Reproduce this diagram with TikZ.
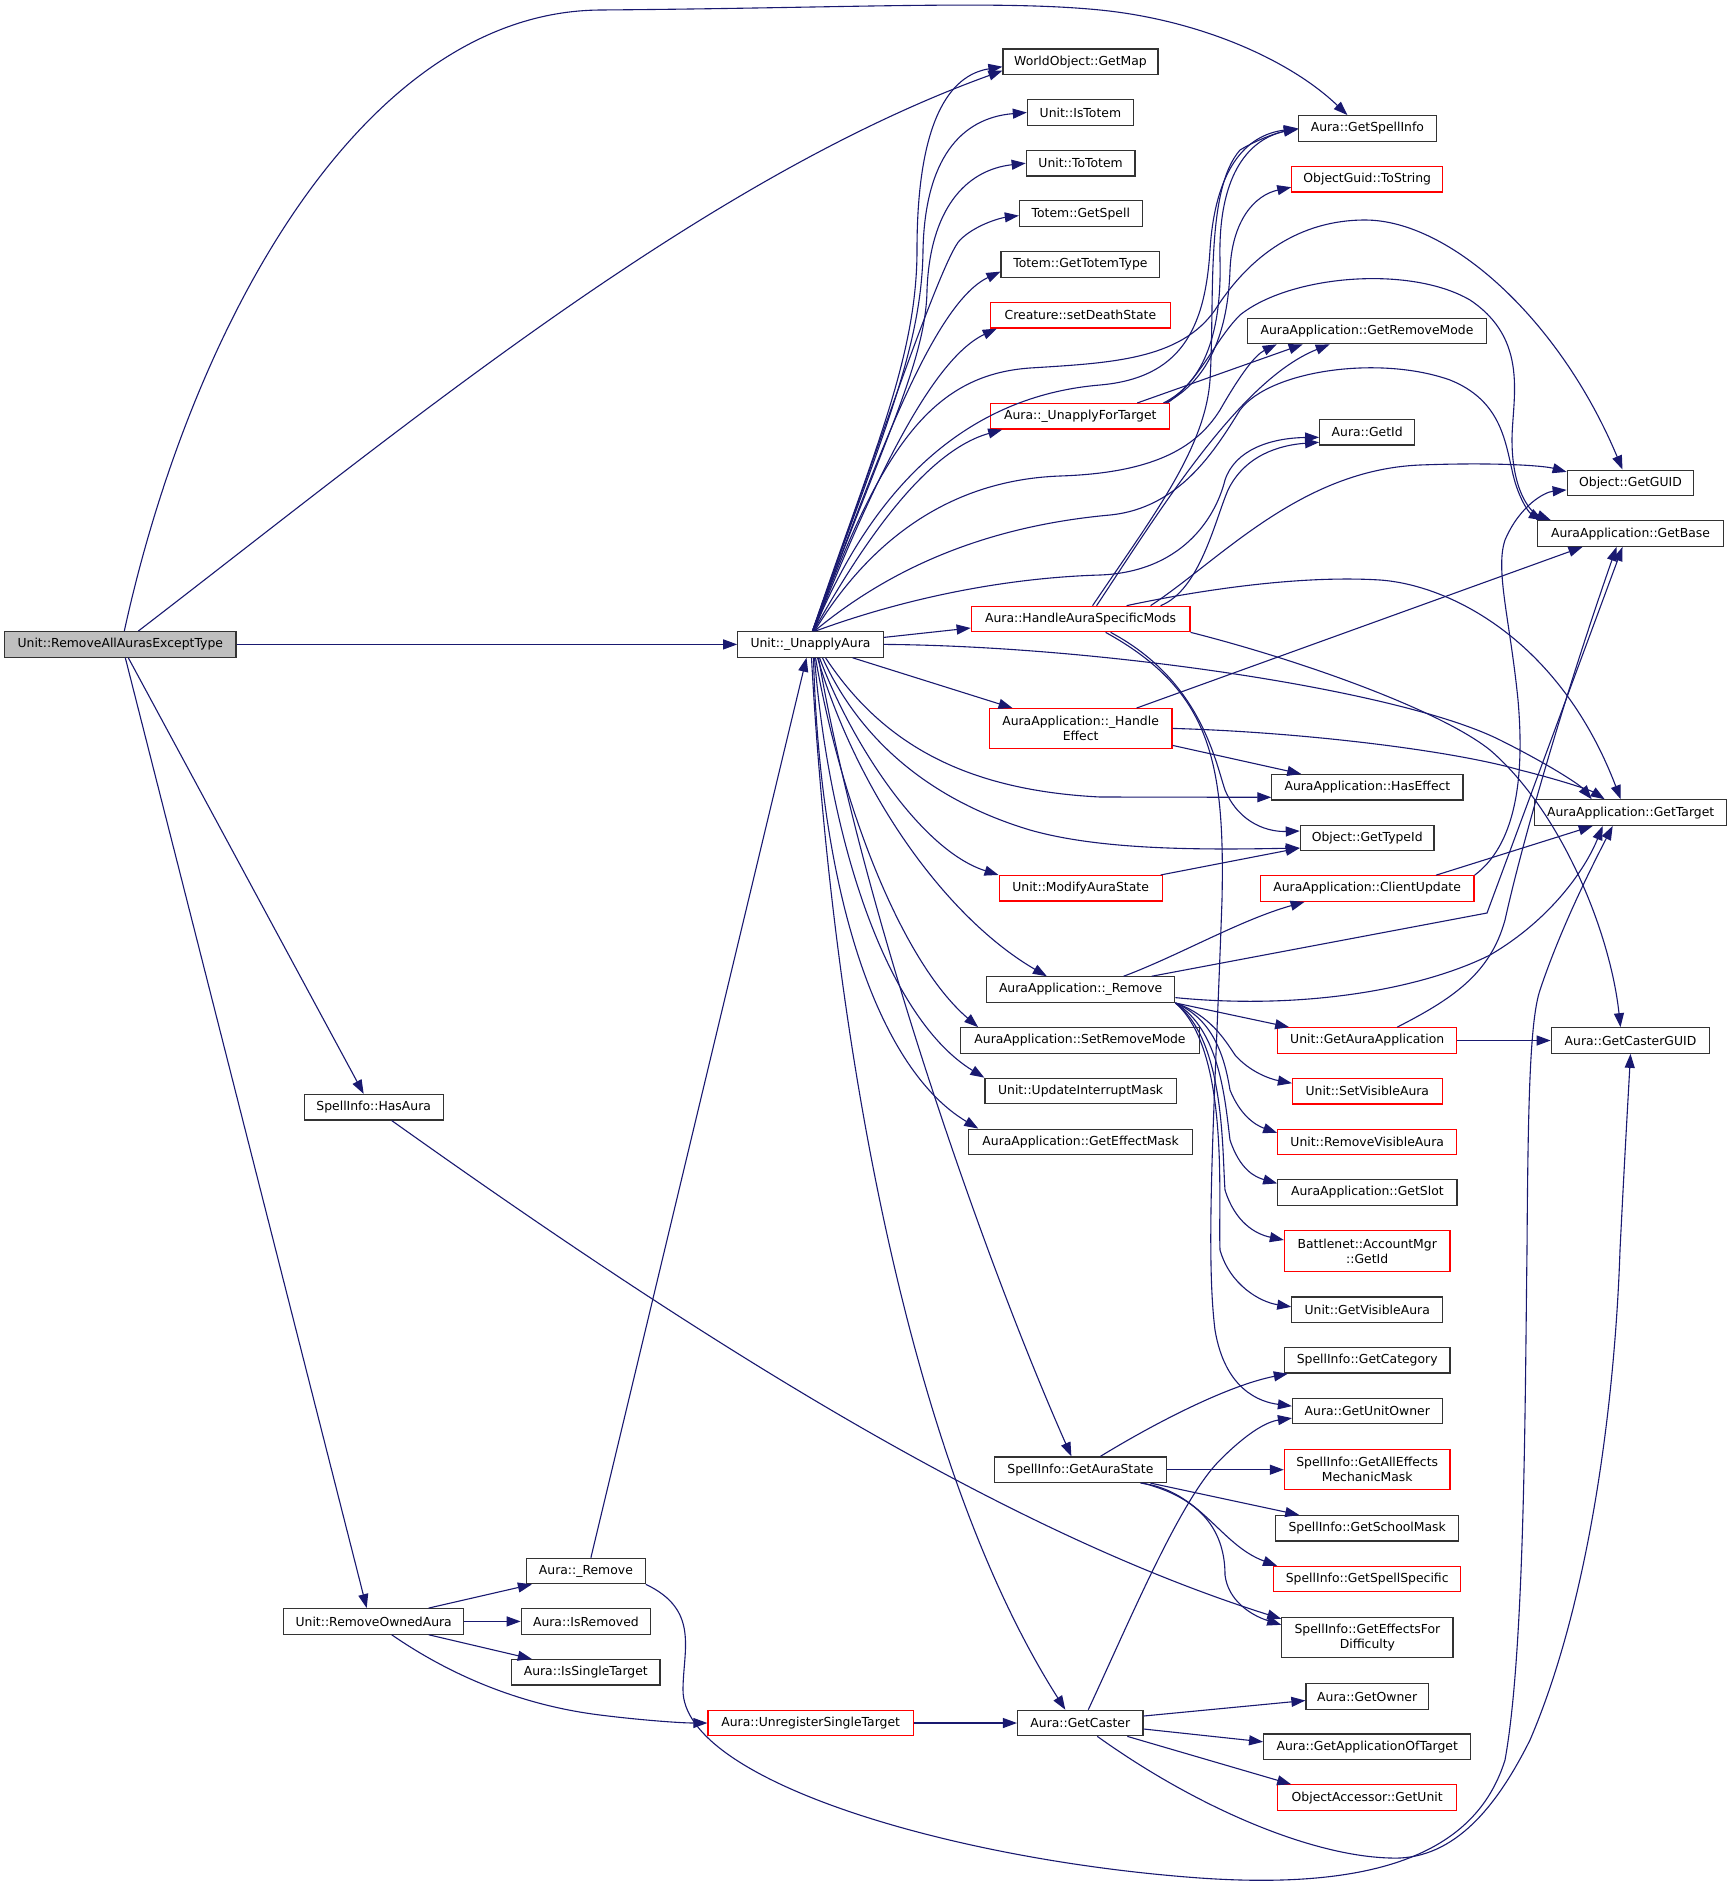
\documentclass[tikz,border=0pt]{standalone}
\usepackage{fontspec}
\newfontfamily\dv{DejaVu Sans}
\usetikzlibrary{arrows.meta}
\definecolor{navy}{HTML}{191970}
\tikzset{
  nb/.style={draw=black!80, line width=1.2pt, fill=white, inner sep=0pt, minimum height=25.5pt, align=center, font=\dv\fontsize{12.4}{15}\selectfont},
  rb/.style={nb, draw=red},
  e/.style={draw=navy, line width=1.1pt, -{Triangle[length=14pt,width=10pt]}}
}
\begin{document}
\begin{tikzpicture}[x=1pt,y=-1pt]
\fill[white] (0,0) rectangle (1732,1888);
\path[use as bounding box] (0,0) rectangle (1732,1888);
% column 1
\node[nb, fill=gray!50, minimum width=231.4pt] (R) at (120.3,644.4) {Unit::RemoveAllAurasExceptType};
\node[nb, minimum width=139pt] (hasaura) at (373.7,1107.2) {SpellInfo::HasAura};
\node[nb, minimum width=180.2pt] (rowned) at (373.7,1621.4) {Unit::RemoveOwnedAura};
\node[nb, minimum width=118.7pt] (aremove) at (585.9,1571) {Aura::\_Remove};
\node[nb, minimum width=129.3pt] (isrem) at (585.9,1621.4) {Aura::IsRemoved};
\node[nb, minimum width=148.4pt] (issingle) at (585.8,1672.3) {Aura::IsSingleTarget};
\node[nb, minimum width=145.4pt] (U) at (810.5,644.4) {Unit::\_UnapplyAura};
\node[rb, minimum width=205.5pt] (unreg) at (810.7,1723) {Aura::UnregisterSingleTarget};
% column 2
\node[nb, minimum width=155pt] (gmap) at (1080.5,61.7) {WorldObject::GetMap};
\node[nb, minimum width=106pt] (istotem) at (1080.4,112.5) {Unit::IsTotem};
\node[nb, minimum width=108.7pt] (tototem) at (1080.6,163.2) {Unit::ToTotem};
\node[nb, minimum width=122.8pt] (gspell) at (1080.8,213.6) {Totem::GetSpell};
\node[nb, minimum width=158.8pt] (gtt) at (1080.4,264.6) {Totem::GetTotemType};
\node[rb, minimum width=180.2pt] (sds) at (1080.4,315.2) {Creature::setDeathState};
\node[rb, minimum width=179.1pt] (uft) at (1080.3,416.3) {Aura::\_UnapplyForTarget};
\node[rb, minimum width=218.8pt] (hm) at (1080.6,619) {Aura::HandleAuraSpecificMods};
\node[rb, minimum width=182.9pt, minimum height=39.5pt] (he) at (1080.6,728.4) {AuraApplication::\_Handle\\Effect};
\node[rb, minimum width=163pt] (mas) at (1080.6,888.3) {Unit::ModifyAuraState};
\node[nb, minimum width=188.3pt] (aar) at (1080.6,989.6) {AuraApplication::\_Remove};
\node[nb, minimum width=238.5pt] (srm) at (1080,1040.5) {AuraApplication::SetRemoveMode};
\node[nb, minimum width=191.3pt] (uim) at (1080.6,1091) {Unit::UpdateInterruptMask};
\node[nb, minimum width=223.5pt] (gem) at (1080.6,1141.9) {AuraApplication::GetEffectMask};
\node[nb, minimum width=171.8pt] (gastate) at (1080.4,1469.7) {SpellInfo::GetAuraState};
\node[nb, minimum width=125.5pt] (gcaster) at (1080.3,1723) {Aura::GetCaster};
% column 3
\node[nb, minimum width=137.7pt] (gsi) at (1367.4,128.4) {Aura::GetSpellInfo};
\node[rb, minimum width=150.7pt] (tostr) at (1367.2,179.2) {ObjectGuid::ToString};
\node[nb, minimum width=239.4pt] (grm) at (1367,331) {AuraApplication::GetRemoveMode};
\node[nb, minimum width=95.1pt] (gid) at (1367.2,432.3) {Aura::GetId};
\node[nb, minimum width=191.1pt] (hef) at (1367.4,787.3) {AuraApplication::HasEffect};
\node[nb, minimum width=133.7pt] (gti) at (1367.2,838) {Object::GetTypeId};
\node[rb, minimum width=213.8pt] (cu) at (1367.1,888.5) {AuraApplication::ClientUpdate};
\node[rb, minimum width=178.9pt] (gaa) at (1367.2,1040.5) {Unit::GetAuraApplication};
\node[rb, minimum width=149.6pt] (sva) at (1367.3,1091.2) {Unit::SetVisibleAura};
\node[rb, minimum width=178.9pt] (rva) at (1367.2,1141.9) {Unit::RemoveVisibleAura};
\node[nb, minimum width=179.3pt] (gslot) at (1367.4,1192.4) {AuraApplication::GetSlot};
\node[rb, minimum width=165.5pt, minimum height=40.3pt] (acc) at (1367.2,1251) {Battlenet::AccountMgr\\::GetId};
\node[nb, minimum width=150.7pt] (gva) at (1367.2,1309.8) {Unit::GetVisibleAura};
\node[nb, minimum width=165.6pt] (gcat) at (1367.2,1360.3) {SpellInfo::GetCategory};
\node[nb, minimum width=149.6pt] (guo) at (1367.3,1411.1) {Aura::GetUnitOwner};
\node[rb, minimum width=165.6pt, minimum height=39.8pt] (allfx) at (1367.2,1469.7) {SpellInfo::GetAllEffects\\MechanicMask};
\node[nb, minimum width=182.7pt] (gsm) at (1367.2,1528.3) {SpellInfo::GetSchoolMask};
\node[rb, minimum width=187.1pt] (gss) at (1367.2,1579.1) {SpellInfo::GetSpellSpecific};
\node[nb, minimum width=171.1pt, minimum height=40.2pt] (gefd) at (1367.4,1637.5) {SpellInfo::GetEffectsFor\\Difficulty};
\node[nb, minimum width=122.5pt] (gown) at (1367.2,1696.5) {Aura::GetOwner};
\node[nb, minimum width=207.1pt] (gaot) at (1367.2,1746.8) {Aura::GetApplicationOfTarget};
\node[rb, minimum width=178.9pt] (gunit) at (1367.2,1797.6) {ObjectAccessor::GetUnit};
% column 4
\node[nb, minimum width=126.6pt] (gguid) at (1630.5,482.9) {Object::GetGUID};
\node[nb, minimum width=186pt] (gbase) at (1630.5,533.6) {AuraApplication::GetBase};
\node[nb, minimum width=192.2pt] (gtarget) at (1630.7,812.6) {AuraApplication::GetTarget};
\node[nb, minimum width=158.5pt] (gcguid) at (1630.5,1040.5) {Aura::GetCasterGUID};

% ---- root edges
\draw[e] ([xshift=4pt]R.north) .. controls (190,330) and (360,12) .. (600,10) .. controls (850,8) and (1000,0) .. (1100,10) .. controls (1200,20) and (1290,60) .. ([xshift=-20pt]gsi.north);
\draw[e] ([xshift=18pt]R.north) .. controls (400,430) and (700,180) .. ([yshift=-9pt]gmap.west);
\draw[e] (R.east) -- (U.west);
\draw[e] ([xshift=8pt]R.south) -- ([xshift=-10pt]hasaura.north);
\draw[e] ([xshift=5pt]R.south) -- ([xshift=-7pt]rowned.north);
% ---- HasAura
\draw[e] ([xshift=18pt]hasaura.south) .. controls (700,1340) and (1000,1530) .. ([yshift=-2pt]gefd.north west);
% ---- RemoveOwnedAura
\draw[e] ([xshift=55pt]rowned.north) -- ([xshift=-54pt]aremove.south);
\draw[e] (rowned.east) -- (isrem.west);
\draw[e] ([xshift=55pt]rowned.south) -- ([xshift=-54pt]issingle.north);
\draw[e] ([xshift=18pt]rowned.south) .. controls (450,1675) and (520,1705) .. (600,1715) .. controls (640,1720) and (680,1723) .. (unreg.west);
% ---- Aura::_Remove
\draw[e] ([xshift=5pt]aremove.north) -- ([xshift=-4pt]U.south);
\draw[e] (aremove.south east) .. controls (700,1610) and (683,1650) .. (683,1690) .. controls (683,1780) and (950,1860) .. (1200,1878) .. controls (1400,1892) and (1480,1840) .. (1505,1760) .. controls (1525,1650) and (1525,1400) .. (1527,1250) .. controls (1528,1100) and (1530,1020) .. (1540,990) .. controls (1560,930) and (1590,870) .. ([xshift=-18pt]gtarget.south);
% ---- Unregister / GetCaster
\draw[e] (unreg.east) -- (gcaster.west);
\draw[e] ([xshift=8pt]gcaster.north) .. controls (1130,1620) and (1180,1500) .. (1220,1460) .. controls (1245,1435) and (1265,1422) .. ([yshift=-7pt]guo.west);
\draw[e] ([yshift=7pt]gcaster.east) -- ([yshift=-4pt]gown.west);
\draw[e] ([yshift=-6pt]gcaster.east) -- ([yshift=5pt]gaot.west);
\draw[e] ([xshift=47pt]gcaster.south) -- ([xshift=14pt]gunit.north west);
\draw[e] ([xshift=17pt]gcaster.south) .. controls (1200,1810) and (1320,1860) .. (1400,1858) .. controls (1460,1855) and (1500,1800) .. (1530,1740) .. controls (1590,1600) and (1615,1400) .. (1620,1250) .. controls (1625,1150) and (1628,1100) .. (gcguid.south);
% ---- GetAuraState
\draw[e] ([xshift=20pt]gastate.north) .. controls (1160,1420) and (1230,1385) .. ([xshift=4pt]gcat.south west);
\draw[e] (gastate.east) -- (allfx.west);
\draw[e] ([xshift=70pt]gastate.south) -- ([xshift=24pt]gsm.north west);
\draw[e] ([xshift=60pt]gastate.south) .. controls (1200,1490) and (1220,1545) .. ([xshift=4pt]gss.north west);
\draw[e] ([xshift=62pt]gastate.south) .. controls (1210,1500) and (1225,1540) .. (1225,1575) .. controls (1228,1600) and (1250,1615) .. ([yshift=-8pt]gefd.north west);
% ---- Unit::_UnapplyAura top fan
\draw[e] ([xshift=2pt]U.north) .. controls (870,460) and (917,360) .. (917,250) .. controls (917,120) and (950,75) .. ([yshift=-5pt]gmap.west);
\draw[e] ([xshift=2pt]U.north) .. controls (880,440) and (922,350) .. (923,250) .. controls (925,160) and (960,118) .. (istotem.west);
\draw[e] ([xshift=2pt]U.north) .. controls (884,440) and (926,360) .. (927,290) .. controls (930,210) and (965,170) .. (tototem.west);
\draw[e] ([xshift=2pt]U.north) .. controls (860,500) and (940,260) .. (960,240) .. controls (975,225) and (1000,218) .. ([yshift=-2pt]gspell.west);
\draw[e] ([xshift=2pt]U.north) .. controls (870,480) and (930,305) .. ([yshift=-7pt]gtt.west);
\draw[e] ([xshift=3pt]U.north) .. controls (870,490) and (930,360) .. ([xshift=7pt]sds.south west);
\draw[e] ([xshift=3pt]U.north) .. controls (870,530) and (930,450) .. ([xshift=12pt]uft.south west);
\draw[e] ([xshift=3pt]U.north) .. controls (880,470) and (980,395) .. (1100,385) .. controls (1180,378) and (1205,330) .. (1210,250) .. controls (1215,170) and (1245,135) .. (gsi.west);
\draw[e] ([xshift=3pt]U.north) .. controls (880,450) and (930,375) .. (1030,368) .. controls (1110,363) and (1180,360) .. (1215,310) .. controls (1250,255) and (1300,220) .. (1365,220) .. controls (1450,220) and (1560,320) .. ([xshift=-8pt]gguid.north);
\draw[e] ([xshift=4pt]U.north) .. controls (870,540) and (950,480) .. (1060,476) .. controls (1150,473) and (1195,450) .. (1220,410) .. controls (1240,375) and (1255,355) .. ([xshift=30pt]grm.south west);
\draw[e] ([xshift=4pt]U.north) .. controls (900,560) and (1000,525) .. (1110,515) .. controls (1180,508) and (1215,450) .. (1240,410) .. controls (1270,370) and (1380,355) .. (1450,380) .. controls (1500,400) and (1505,440) .. (1512,470) .. controls (1517,495) and (1528,512) .. ([xshift=6pt]gbase.north west);
\draw[e] ([xshift=5pt]U.north) .. controls (900,600) and (1000,578) .. (1100,575) .. controls (1180,572) and (1215,520) .. (1225,480) .. controls (1235,450) and (1270,438) .. ([yshift=-5pt]gid.west);
% ---- Unit::_UnapplyAura right and bottom
\draw[e] ([yshift=7pt]U.east) -- ([yshift=-9pt]hm.west);
\draw[e] (U.east) .. controls (1100,646) and (1400,690) .. (1500,740) .. controls (1550,765) and (1580,785) .. ([xshift=-39pt]gtarget.north);
\draw[e] ([xshift=42pt]U.south) -- ([xshift=24pt]he.north west);
\draw[e] ([xshift=15pt]U.south) .. controls (880,740) and (960,790) .. (1100,797) -- ([yshift=-10pt]hef.west);
\draw[e] ([xshift=12pt]U.south) .. controls (860,740) and (930,800) .. (1030,830) .. controls (1100,850) and (1200,850) .. ([yshift=-10pt]gti.west);
\draw[e] ([xshift=9pt]U.south) .. controls (850,740) and (920,850) .. (mas.north west);
\draw[e] ([xshift=7pt]U.south) .. controls (860,800) and (950,920) .. ([xshift=61pt]aar.north west);
\draw[e] ([xshift=5pt]U.south) .. controls (840,800) and (900,960) .. ([xshift=18pt]srm.north west);
\draw[e] ([xshift=4pt]U.south) .. controls (830,850) and (890,1020) .. (uim.north west);
\draw[e] ([xshift=3pt]U.south) .. controls (820,900) and (880,1070) .. ([xshift=10pt]gem.north west);
\draw[e] ([xshift=8pt]U.south) .. controls (860,900) and (980,1250) .. ([xshift=-9pt]gastate.north);
\draw[e] ([xshift=1pt]U.south) .. controls (830,1000) and (900,1450) .. ([xshift=-15pt]gcaster.north);
% ---- _UnapplyForTarget
\draw[e] ([xshift=57pt]uft.north) -- ([xshift=56pt]grm.south west);
\draw[e] ([xshift=-7pt]uft.north east) .. controls (1200,385) and (1222,340) .. (1220,260) .. controls (1218,180) and (1245,140) .. (gsi.west);
\draw[e] ([xshift=-5pt]uft.north east) .. controls (1210,380) and (1228,330) .. (1230,270) .. controls (1232,220) and (1255,195) .. ([yshift=-8pt]tostr.west);
\draw[e] ([xshift=-3pt]uft.north east) .. controls (1200,380) and (1215,340) .. (1240,315) .. controls (1290,275) and (1410,265) .. (1470,300) .. controls (1530,340) and (1512,400) .. (1512,440) .. controls (1512,490) and (1530,512) .. ([xshift=14pt]gbase.north west);
% ---- HandleAuraSpecificMods
\draw[e] ([xshift=12pt]hm.north) .. controls (1150,520) and (1205,450) .. (1210,380) .. controls (1215,300) and (1205,190) .. (1240,150) .. controls (1260,138) and (1280,132) .. ([yshift=-1pt]gsi.west);
\draw[e] ([xshift=16pt]hm.north) .. controls (1160,510) and (1240,380) .. ([xshift=83pt]grm.south west);
\draw[e] ([xshift=80pt]hm.north) .. controls (1200,590) and (1215,520) .. (1228,490) .. controls (1245,455) and (1280,445) .. ([yshift=-10pt]gid.west);
\draw[e] ([xshift=70pt]hm.north) .. controls (1220,560) and (1300,470) .. (1420,465) .. controls (1500,462) and (1545,466) .. ([yshift=11pt]gguid.west);
\draw[e] ([xshift=46pt]hm.north) .. controls (1200,590) and (1300,575) .. (1380,580) .. controls (1450,585) and (1560,640) .. ([xshift=-10pt]gtarget.north);
\draw[e] (hm.south east) .. controls (1300,660) and (1440,710) .. (1490,750) .. controls (1560,810) and (1610,930) .. ([xshift=-10pt]gcguid.north);
\draw[e] ([xshift=30pt]hm.south) .. controls (1200,680) and (1215,760) .. (1225,790) .. controls (1240,825) and (1270,832) .. ([yshift=7pt]gti.west);
\draw[e] ([xshift=25pt]hm.south) .. controls (1210,690) and (1225,760) .. (1222,900) .. controls (1215,1100) and (1205,1250) .. (1215,1330) .. controls (1225,1390) and (1260,1402) .. ([yshift=5pt]guo.west);
% ---- _HandleEffect
\draw[e] ([xshift=56pt]he.north) -- ([xshift=-48pt]gbase.south);
\draw[e] (he.east) .. controls (1300,732) and (1450,750) .. (1520,770) .. controls (1560,780) and (1590,790) .. ([xshift=-26pt]gtarget.north);
\draw[e] ([yshift=-17pt]he.east) -- ([xshift=30pt]hef.north west);
% ---- ModifyAuraState
\draw[e] ([xshift=-2pt]mas.north east) -- ([yshift=-10pt]gti.west);
% ---- AuraApplication::_Remove
\draw[e] ([xshift=43pt]aar.north) .. controls (1180,955) and (1240,920) .. ([xshift=45pt]cu.south west);
\draw[e] ([xshift=71pt]aar.north) -- (1487,913) -- ([xshift=-8pt]gbase.south);
\draw[e] ([yshift=-8pt]aar.east) .. controls (1300,1010) and (1420,990) .. (1490,955) .. controls (1550,920) and (1585,870) .. ([xshift=-28pt]gtarget.south);
\draw[e] (aar.south east) -- ([xshift=12pt]gaa.north west);
\draw[e] (aar.south east) .. controls (1210,1015) and (1225,1040) .. (1235,1055) .. controls (1250,1072) and (1270,1079) .. ([yshift=8pt]sva.west);
\draw[e] (aar.south east) .. controls (1215,1020) and (1225,1060) .. (1230,1090) .. controls (1240,1115) and (1255,1125) .. ([yshift=9pt]rva.west);
\draw[e] (aar.south east) .. controls (1220,1030) and (1225,1100) .. (1230,1140) .. controls (1240,1170) and (1255,1177) .. ([yshift=9pt]gslot.west);
\draw[e] (aar.south east) .. controls (1225,1040) and (1222,1150) .. (1225,1190) .. controls (1235,1222) and (1255,1234) .. ([yshift=11pt]acc.west);
\draw[e] (aar.south east) .. controls (1230,1050) and (1218,1200) .. (1220,1250) .. controls (1230,1285) and (1260,1302) .. ([yshift=3pt]gva.west);
% ---- ClientUpdate
\draw[e] ([xshift=69pt]cu.north) -- ([xshift=-38pt]gtarget.south);
\draw[e] (cu.north east) .. controls (1515,845) and (1525,780) .. (1518,700) .. controls (1510,620) and (1495,570) .. (1505,540) .. controls (1520,505) and (1545,492) .. ([yshift=-7pt]gguid.west);
% ---- GetAuraApplication
\draw[e] (gaa.east) -- (gcguid.west);
\draw[e] ([xshift=30pt]gaa.north) .. controls (1450,1000) and (1490,975) .. (1505,920) .. controls (1525,830) and (1570,680) .. ([xshift=-14pt]gbase.south);
\end{tikzpicture}
\end{document}
